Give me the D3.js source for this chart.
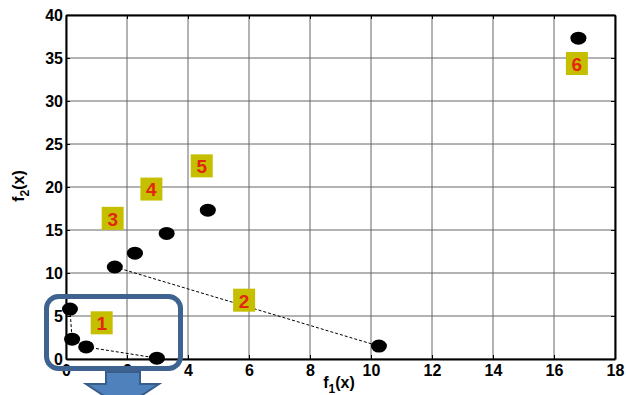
<!DOCTYPE html>
<html>
<head>
<meta charset="utf-8">
<script src="https://cdn.jsdelivr.net/npm/d3@7"></script>
<style>
  html, body { margin: 0; padding: 0; background: #fff; }
  svg { display: block; font-family: "Liberation Sans", Arial, sans-serif; }
</style>
</head>
<body>
<div id="chart"></div>
<script>
// points
const f1 = [0.13, 0.2, 0.66, 2.98, 1.6, 2.26, 3.3, 4.65, 10.26, 16.8];
const f2 = [5.8, 2.3, 1.4, 0.1, 10.7, 12.3, 14.6, 17.3, 1.5, 37.3];
// dashed segments, as index pairs into the points
const links = [[0, 1], [1, 2], [2, 3], [4, 8]];
// numbered tags
const tagText = ["1", "2", "3", "4", "5", "6"];
const tagX = [1.17, 5.84, 1.53, 2.8, 4.45, 16.75];
const tagY = [4.15, 6.78, 16.3, 19.7, 22.4, 34.3];
const xTicks = [0, 2, 4, 6, 8, 10, 12, 14, 16, 18];
const yTicks = [0, 5, 10, 15, 20, 25, 30, 35, 40];

const width = 626, height = 395;
const margin = {top: 15, right: 11, bottom: 36, left: 66};

const svg = d3.select("#chart").append("svg")
  .attr("width", width)
  .attr("height", height);

const x = d3.scaleLinear().domain([0, 18]).range([margin.left, width - margin.right]);
const y = d3.scaleLinear().domain([0, 40]).range([height - margin.bottom, margin.top]);

// grid
svg.append("g").selectAll("line.gx")
  .data(xTicks).enter().append("line")
  .attr("x1", d => x(d)).attr("x2", d => x(d))
  .attr("y1", y(0)).attr("y2", y(40))
  .attr("stroke", "#666").attr("stroke-width", 1);
svg.append("g").selectAll("line.gy")
  .data(yTicks).enter().append("line")
  .attr("x1", x(0)).attr("x2", x(18))
  .attr("y1", d => y(d)).attr("y2", d => y(d))
  .attr("stroke", "#666").attr("stroke-width", 1);

// axes, ticks pointing inward
svg.append("g")
  .attr("transform", "translate(0," + y(0) + ")")
  .call(d3.axisBottom(x).tickValues(xTicks).tickSizeInner(-4).tickSizeOuter(0).tickPadding(6));
svg.append("g")
  .attr("transform", "translate(" + x(0) + ",0)")
  .call(d3.axisLeft(y).tickValues(yTicks).tickSizeInner(-4).tickSizeOuter(0).tickPadding(3));
svg.append("g")
  .attr("transform", "translate(" + x(18) + ",0)")
  .call(d3.axisRight(y).tickValues(yTicks).tickSizeInner(-4).tickSizeOuter(0).tickFormat(""));
svg.append("g")
  .attr("transform", "translate(0," + y(40) + ")")
  .call(d3.axisTop(x).tickValues(xTicks).tickSizeInner(-4).tickSizeOuter(0).tickFormat(""));

svg.selectAll(".domain").attr("stroke", "#000").attr("stroke-width", 2);
svg.selectAll(".tick line").attr("stroke", "#000");
svg.selectAll(".tick text")
  .attr("fill", "#000")
  .style("font-size", "16px")
  .style("font-weight", "bold");

// axis titles
const xt = svg.append("text")
  .attr("x", 339).attr("y", 388)
  .attr("text-anchor", "middle")
  .style("font-size", "16px").style("font-weight", "bold");
xt.append("tspan").text("f");
xt.append("tspan").attr("dy", 5).style("font-size", "12px").text("1");
xt.append("tspan").attr("dy", -5).text("(x)");

const yt = svg.append("text")
  .attr("transform", "translate(24,186) rotate(-90)")
  .attr("text-anchor", "middle")
  .style("font-size", "16px").style("font-weight", "bold");
yt.append("tspan").text("f");
yt.append("tspan").attr("dy", 5).style("font-size", "12px").text("2");
yt.append("tspan").attr("dy", -5).text("(x)");

// dashed connections
svg.append("g").selectAll("line")
  .data(links).enter().append("line")
  .attr("x1", d => x(f1[d[0]])).attr("y1", d => y(f2[d[0]]))
  .attr("x2", d => x(f1[d[1]])).attr("y2", d => y(f2[d[1]]))
  .attr("stroke", "#000").attr("stroke-width", 1)
  .attr("stroke-dasharray", "3,2");

// points
svg.append("g").selectAll("ellipse")
  .data(f1).enter().append("ellipse")
  .attr("cx", d => x(d))
  .attr("cy", (d, i) => y(f2[i]))
  .attr("rx", 8).attr("ry", 6.5)
  .attr("fill", "#000");

// numbered tags
const tags = svg.append("g").selectAll("g")
  .data(tagText).enter().append("g")
  .attr("transform", (d, i) => "translate(" + x(tagX[i]) + "," + y(tagY[i]) + ")");
tags.append("rect")
  .attr("x", -11).attr("y", -12)
  .attr("width", 22).attr("height", 23)
  .attr("fill", "#c6bf00");
tags.append("text")
  .attr("text-anchor", "middle")
  .attr("dy", "0.36em")
  .attr("fill", "#e3260e")
  .style("font-size", "19px").style("font-weight", "bold")
  .text(d => d);

// blue highlight box and arrow
svg.append("rect")
  .attr("x", 46.5).attr("y", 296.5)
  .attr("width", 134).attr("height", 72)
  .attr("rx", 12).attr("ry", 12)
  .attr("fill", "none")
  .attr("stroke", "#3e6391").attr("stroke-width", 5);
svg.append("path")
  .attr("d", "M106,372 L140,372 L140,384 L159,384 L122.5,408 L86,384 L106,384 Z")
  .attr("fill", "#4f81bd")
  .attr("stroke", "#385d8a").attr("stroke-width", 2);
</script>
</body>
</html>
